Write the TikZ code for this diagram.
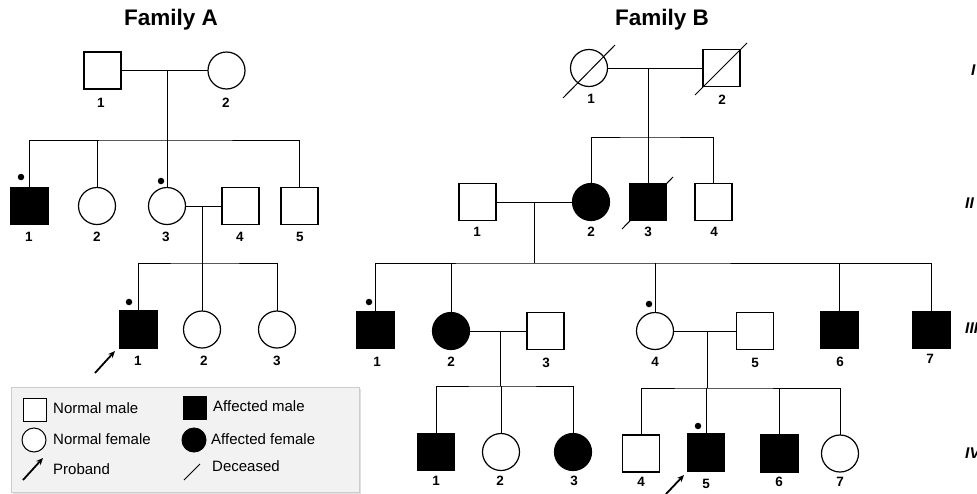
\documentclass[tikz,border=0pt]{standalone}
\usepackage{fontspec}
\setmainfont{Liberation Sans}
\usetikzlibrary{arrows.meta}
\begin{document}
\begin{tikzpicture}[x=1pt,y=-1pt,
  sq/.style={draw,line width=1.2pt,rectangle,minimum size=37pt,inner sep=0pt,outer sep=0pt},
  ci/.style={draw,line width=1.2pt,circle,minimum size=37pt,inner sep=0pt,outer sep=0pt},
  aff/.style={fill=black},
  lsq/.style={draw,line width=1pt,rectangle,minimum size=23pt,inner sep=0pt,outer sep=0pt,fill=white},
  lci/.style={draw,line width=1pt,circle,minimum size=24pt,inner sep=0pt,outer sep=0pt,fill=white},
  lab/.style={font=\bfseries\fontsize{13.5}{13.5}\selectfont,inner sep=0pt},
  gen/.style={font=\bfseries\itshape\fontsize{15.5}{15.5}\selectfont,inner sep=0pt,anchor=west},
  ttl/.style={font=\bfseries\fontsize{22.5}{22.5}\selectfont,inner sep=0pt},
  ltx/.style={font=\fontsize{15}{15}\selectfont,inner sep=0pt,anchor=west},
  con/.style={line width=0.9pt},
  dec/.style={line width=1pt},
  prob/.style={line width=1.8pt,-{Stealth[length=7pt,width=6pt]}},
  dot/.style={circle,fill=black,minimum size=6.5pt,inner sep=0pt}]
\useasboundingbox (0,0) rectangle (977,493);
\clip (0,0) rectangle (977,493);

% titles
\node[ttl] (tA) at (171,20) {Family A};
\node[ttl] (tB) at (662,20) {Family B};

% ================= Family A =================
\node[sq] (a11) at (102.5,70.5) {};
\node[ci] (a12) at (226.5,70.5) {};
\node[lab] (la11) at (101,103) {1};
\node[lab] (la12) at (226,103) {2};
\draw[con] (a11) -- (a12);
\coordinate (amA) at (167,70.5);
\coordinate (sA) at (167,140);
\draw[con] (amA) -- (sA);

\node[sq,aff] (a21) at (29.5,206) {};
\node[ci] (a22) at (97,206) {};
\node[ci] (a23) at (167,206) {};
\node[sq] (a24) at (240.5,206) {};
\node[sq] (a25) at (299.5,206) {};
\draw[con] (a21.north) |- (sA) -| (a25.north);
\draw[con] (a22.north) -- (a22 |- sA);
\draw[con] (a23.north) -- (sA);
\node[dot] (da21) at (21,177) {};
\node[dot] (da23) at (161,181) {};
\node[lab] (la21) at (29,237) {1};
\node[lab] (la22) at (97,237) {2};
\node[lab] (la23) at (166,237) {3};
\node[lab] (la24) at (240,237) {4};
\node[lab] (la25) at (300,237) {5};
\draw[con] (a23) -- (a24);
\coordinate (amA2) at (202,206);
\coordinate (sA2) at (202,263);
\draw[con] (amA2) -- (sA2);

\node[sq,aff] (a31) at (138.5,329.5) {};
\node[ci] (a32) at (202,329.5) {};
\node[ci] (a33) at (277,329.5) {};
\draw[con] (a31.north) |- (sA2) -| (a33.north);
\draw[con] (a32.north) -- (sA2);
\node[dot] (da31) at (129,302) {};
\node[lab] (la31) at (138,361) {1};
\node[lab] (la32) at (204,361) {2};
\node[lab] (la33) at (277,361) {3};
\coordinate (pA0) at (95,373);
\coordinate (pA1) at (115,351);
\draw[prob] (pA0) -- (pA1);

% ================= Legend =================
\fill[black!12] (13,389) rectangle (361,494);
\node[draw=black!20,fill=black!5,line width=0.6pt,minimum width=348pt,minimum height=105pt,inner sep=0pt,anchor=north west] (leg) at (11,387) {};
\node[lsq] (lg1) at (34.5,409.5) {};
\node[ltx] (lt1) at (53,408) {Normal male};
\node[lsq,aff] (lg2) at (194.5,407.5) {};
\node[ltx] (lt2) at (213,406) {Affected male};
\node[lci] (lg3) at (34,440) {};
\node[ltx] (lt3) at (53,439.5) {Normal female};
\node[lci,aff] (lg4) at (194,440) {};
\node[ltx] (lt4) at (211,439.5) {Affected female};
\coordinate (lp0) at (23,480);
\coordinate (lp1) at (43,458);
\draw[prob] (lp0) -- (lp1);
\node[ltx] (lt5) at (53,469) {Proband};
\coordinate (ld0) at (184,480);
\coordinate (ld1) at (200,464);
\draw[dec] (ld0) -- (ld1);
\node[ltx] (lt6) at (212,466.5) {Deceased};

% ================= Family B =================
\node[ci] (b11) at (589,68) {};
\node[sq] (b12) at (721.5,68) {};
\draw[dec] (563,98) -- (615,45);
\draw[dec] (695,95) -- (747,43);
\node[lab] (lb11) at (591,99) {1};
\node[lab] (lb12) at (722,100) {2};
\draw[con] (b11) -- (b12);
\coordinate (bm1) at (648,68);
\coordinate (sB1) at (648,137);
\draw[con] (bm1) -- (sB1);

\node[sq] (b21) at (477.5,202) {};
\node[ci,aff] (b22) at (591,202) {};
\node[sq,aff] (b23) at (648,202) {};
\node[sq] (b24) at (713.5,202) {};
\draw[dec] (622,229) -- (673,177);
\draw[con] (b22.north) |- (sB1) -| (b24.north);
\draw[con] (b23.north) -- (sB1);
\node[lab] (lb21) at (477,232) {1};
\node[lab] (lb22) at (591,232) {2};
\node[lab] (lb23) at (648,232) {3};
\node[lab] (lb24) at (714,232) {4};
\draw[con] (b21) -- (b22);
\coordinate (bm2) at (534,202);
\coordinate (sB2) at (534,263);
\draw[con] (bm2) -- (sB2);

\node[sq,aff] (b31) at (375.5,330) {};
\node[ci,aff] (b32) at (451,331) {};
\node[sq] (b33) at (545.5,331) {};
\node[ci] (b34) at (655,331) {};
\node[sq] (b35) at (755,331) {};
\node[sq,aff] (b36) at (839.5,330) {};
\node[sq,aff] (b37) at (931.5,330) {};
\draw[con] (b31.north) |- (sB2) -| (b37.north);
\draw[con] (b32.north) -- (b32 |- sB2);
\draw[con] (b34.north) -- (b34 |- sB2);
\draw[con] (b36.north) -- (b36 |- sB2);
\node[dot] (db31) at (369,302) {};
\node[dot] (db34) at (649,304) {};
\node[lab] (lb31) at (377,362) {1};
\node[lab] (lb32) at (451,362) {2};
\node[lab] (lb33) at (546,363) {3};
\node[lab] (lb34) at (655,362) {4};
\node[lab] (lb35) at (755,363) {5};
\node[lab] (lb36) at (840,362) {6};
\node[lab] (lb37) at (930,359) {7};
\draw[con] (b32) -- (b33);
\draw[con] (b34) -- (b35);
\coordinate (bm3) at (500,331);
\coordinate (sB3) at (500,386);
\draw[con] (bm3) -- (sB3);
\coordinate (bm4) at (707,331);
\coordinate (sB4) at (707,388);
\draw[con] (bm4) -- (sB4);

\node[sq,aff] (b41) at (436,452) {};
\node[ci] (b42) at (501,452) {};
\node[ci,aff] (b43) at (573,452) {};
\draw[con] (b41.north) |- (sB3) -| (b43.north);
\draw[con] (b42.north) -- (b42 |- sB3);
\node[lab] (lb41) at (436,481) {1};
\node[lab] (lb42) at (500,481) {2};
\node[lab] (lb43) at (574,481) {3};

\node[sq] (b44) at (641,453.5) {};
\node[sq,aff] (b45) at (706,452.5) {};
\node[sq,aff] (b46) at (779.5,453.5) {};
\node[ci] (b47) at (840,453.5) {};
\draw[con] (b44.north) |- (sB4) -| (b47.north);
\draw[con] (b45.north) -- (b45 |- sB4);
\draw[con] (b46.north) -- (b46 |- sB4);
\node[dot] (db45) at (698,426) {};
\node[lab] (lb44) at (641,482) {4};
\node[lab] (lb45) at (706,484) {5};
\node[lab] (lb46) at (779,482) {6};
\node[lab] (lb47) at (840,482) {7};
\coordinate (pB0) at (666,494);
\coordinate (pB1) at (684,475);
\draw[prob] (pB0) -- (pB1);

% generation numerals
\node[gen] (gI) at (971,70) {I};
\node[gen] (gII) at (965,203) {II};
\node[gen] (gIII) at (965,328) {III};
\node[gen] (gIV) at (965,453) {IV};
\end{tikzpicture}
\end{document}
